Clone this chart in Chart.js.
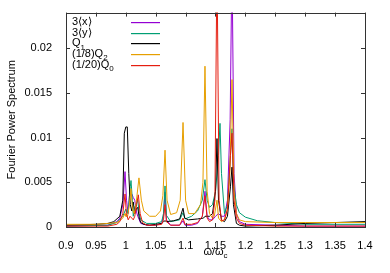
<!DOCTYPE html>
<html>
<head>
<meta charset="utf-8">
<script src="https://cdn.jsdelivr.net/npm/chart.js@4.4.1/dist/chart.umd.min.js"></script>
<style>
  html, body { margin: 0; padding: 0; background: #fff; }
  #wrap { width: 390px; height: 273px; }
</style>
</head>
<body>
<div id="wrap"><canvas id="spec" width="390" height="273"></canvas></div>
<script>
// tick values
const xTicks = [0.9, 0.95, 1, 1.05, 1.1, 1.15, 1.2, 1.25, 1.3, 1.35, 1.4];
const yTicks = [0, 0.005, 0.01, 0.015, 0.02];

// legend labels ("_" marks a subscript)
const labels = ["3⟨x⟩", "3⟨y⟩", "Q_1", "(1/8)Q_2", "(1/20)Q_0"];
const colors = ["#9400d3", "#009e73", "#000000", "#e69f00", "#e51e10"];

// [omega/omega_c, power]
const px3 = [[0.9,0.0001],[0.97,0.0002],[0.985,0.0006],[0.99,0.001],[0.995,0.0025],[0.9987,0.0062],[1.0012,0.003],[1.004,0.0015],[1.006,0.0035],[1.01,0.0037],[1.0125,0.0033],[1.015,0.003],[1.0175,0.0018],[1.02,0.0012],[1.025,0.0004],[1.035,0.0002],[1.05,0.0002],[1.06,0.0004],[1.063,0.0012],[1.0656,0.0039],[1.068,0.0008],[1.075,0.0002],[1.09,0.0002],[1.0957,0.0007],[1.099,0.0002],[1.11,0.0002],[1.12,0.0004],[1.128,0.0012],[1.1324,0.004],[1.136,0.0012],[1.14,0.0008],[1.145,0.0008],[1.15,0.0012],[1.155,0.0015],[1.16,0.0012],[1.165,0.0012],[1.17,0.003],[1.1745,0.012],[1.1776,0.03],[1.181,0.006],[1.185,0.0015],[1.19,0.0006],[1.2,0.0003],[1.25,0.0002],[1.3,0.0001],[1.4,0.0001]];

const py3 = [[0.9,0.0001],[0.97,0.0002],[0.985,0.0005],[0.995,0.0012],[1.0,0.002],[1.0025,0.0015],[1.005,0.0025],[1.0075,0.0045],[1.0087,0.0052],[1.011,0.003],[1.0125,0.0012],[1.015,0.0022],[1.0175,0.0026],[1.02,0.003],[1.0225,0.0015],[1.025,0.0008],[1.035,0.0004],[1.05,0.0004],[1.06,0.0006],[1.063,0.0015],[1.0656,0.0046],[1.068,0.0013],[1.075,0.0006],[1.09,0.0008],[1.0957,0.0016],[1.099,0.0009],[1.11,0.0012],[1.12,0.0018],[1.128,0.003],[1.1324,0.0053],[1.136,0.003],[1.14,0.0022],[1.145,0.0025],[1.15,0.004],[1.155,0.008],[1.1575,0.0116],[1.16,0.006],[1.165,0.0015],[1.17,0.0025],[1.175,0.008],[1.1776,0.011],[1.18,0.005],[1.185,0.0025],[1.19,0.0016],[1.2,0.0011],[1.22,0.0007],[1.25,0.0005],[1.3,0.0003],[1.35,0.0003],[1.4,0.0003]];

const q1 = [[0.9,0.0002],[0.95,0.0003],[0.97,0.0004],[0.98,0.0006],[0.99,0.0012],[0.995,0.003],[0.9975,0.0105],[1.0,0.0112],[1.0025,0.0112],[1.005,0.006],[1.0075,0.0025],[1.01,0.0018],[1.0125,0.0028],[1.015,0.0015],[1.0175,0.002],[1.02,0.0022],[1.0225,0.001],[1.025,0.0005],[1.03,0.0003],[1.04,0.0002],[1.05,0.0003],[1.06,0.0004],[1.063,0.0006],[1.0656,0.0007],[1.068,0.0006],[1.08,0.0007],[1.09,0.0009],[1.0957,0.0021],[1.0985,0.001],[1.105,0.0008],[1.12,0.0009],[1.13,0.001],[1.1325,0.0012],[1.14,0.0012],[1.145,0.0015],[1.15,0.004],[1.1525,0.0099],[1.155,0.003],[1.16,0.0008],[1.165,0.0006],[1.17,0.0012],[1.175,0.0045],[1.1776,0.0067],[1.18,0.0025],[1.185,0.0004],[1.19,0.0002],[1.2,0.0001],[1.25,0.0002],[1.3,0.0004],[1.35,0.0005],[1.4,0.0006]];

const q2 = [[0.9,0.0003],[0.95,0.0003],[0.97,0.0004],[0.985,0.0005],[0.99,0.0007],[0.995,0.001],[0.9987,0.0015],[1.0,0.0012],[1.003,0.0012],[1.006,0.0025],[1.0087,0.0043],[1.011,0.002],[1.014,0.0015],[1.017,0.0025],[1.022,0.0055],[1.026,0.003],[1.03,0.0018],[1.04,0.0012],[1.05,0.0012],[1.058,0.0018],[1.062,0.0035],[1.0656,0.0086],[1.069,0.003],[1.075,0.0014],[1.085,0.0016],[1.091,0.003],[1.0957,0.0117],[1.1,0.003],[1.105,0.0015],[1.115,0.0015],[1.125,0.0025],[1.129,0.005],[1.1324,0.018],[1.136,0.004],[1.14,0.0015],[1.145,0.001],[1.148,0.0012],[1.1525,0.003],[1.155,0.001],[1.16,0.0006],[1.165,0.0008],[1.17,0.002],[1.174,0.006],[1.1776,0.0165],[1.181,0.004],[1.185,0.0015],[1.19,0.0008],[1.2,0.0006],[1.25,0.0005],[1.3,0.0005],[1.35,0.0005],[1.4,0.0005]];

const q0 = [[0.9,0.0001],[0.97,0.0001],[0.985,0.0003],[0.99,0.0006],[0.995,0.0015],[0.9987,0.0037],[1.001,0.0015],[1.004,0.0008],[1.007,0.0012],[1.01,0.001],[1.0125,0.0008],[1.015,0.0012],[1.018,0.0025],[1.021,0.0036],[1.024,0.0015],[1.028,0.0005],[1.035,0.0002],[1.05,0.0002],[1.06,0.0003],[1.063,0.0008],[1.0656,0.0025],[1.068,0.0006],[1.075,0.0002],[1.09,0.0002],[1.0957,0.001],[1.099,0.0003],[1.11,0.0003],[1.12,0.0005],[1.128,0.0012],[1.1324,0.0035],[1.136,0.001],[1.14,0.0006],[1.145,0.0008],[1.149,0.003],[1.1525,0.03],[1.156,0.003],[1.16,0.0007],[1.165,0.0008],[1.17,0.002],[1.175,0.008],[1.1776,0.0105],[1.181,0.003],[1.185,0.001],[1.19,0.0004],[1.2,0.0002],[1.25,0.0001],[1.3,0.0001],[1.4,0.0001]];

const series = [px3, py3, q1, q2, q0];
const FONT = "'Liberation Sans', Arial, sans-serif";

// draw text where "_x" is a subscript
function richText(ctx, str, x, y, align) {
  const parts = str.split("_");
  const main = parts[0], sub = parts[1] || "";
  ctx.font = "11px " + FONT;
  const w1 = ctx.measureText(main).width;
  ctx.font = "8px " + FONT;
  const w2 = ctx.measureText(sub).width;
  let sx = x;
  if (align === "center") sx = x - (w1 + w2) / 2;
  ctx.textAlign = "left";
  ctx.textBaseline = "middle";
  ctx.font = "11px " + FONT;
  ctx.fillText(main, sx, y);
  if (sub) {
    ctx.font = "8px " + FONT;
    ctx.fillText(sub, sx + w1, y + 4);
  }
}

const frame = {
  id: "frame",
  afterDatasetsDraw(chart) {
    const ctx = chart.ctx;
    const a = chart.chartArea;
    const xs = chart.scales.x, ys = chart.scales.y;
    ctx.save();
    ctx.strokeStyle = "#333";
    ctx.lineWidth = 1;
    ctx.strokeRect(Math.round(a.left) + 0.5, Math.round(a.top) + 0.5,
      Math.round(a.right - a.left), Math.round(a.bottom - a.top));
    ctx.beginPath();
    xTicks.forEach(v => {
      const p = Math.round(xs.getPixelForValue(v)) + 0.5;
      ctx.moveTo(p, a.bottom); ctx.lineTo(p, a.bottom - 4);
      ctx.moveTo(p, a.top); ctx.lineTo(p, a.top + 4);
    });
    yTicks.forEach(v => {
      const p = Math.round(ys.getPixelForValue(v)) + 0.5;
      ctx.moveTo(a.left, p); ctx.lineTo(a.left + 4, p);
      ctx.moveTo(a.right, p); ctx.lineTo(a.right - 4, p);
    });
    ctx.stroke();

    // legend
    labels.forEach((lab, i) => {
      const y = a.top + 9.5 + i * 10.6;
      ctx.fillStyle = "#000";
      richText(ctx, lab, a.left + 6, y, "left");
      ctx.fillStyle = colors[i];
      ctx.fillRect(a.left + 65, Math.round(y), 29, 1.2);
    });

    // axis titles
    ctx.fillStyle = "#000";
    richText(ctx, "ω/ω_c", (a.left + a.right) / 2, 252, "center");
    ctx.translate(12, (a.top + a.bottom) / 2);
    ctx.rotate(-Math.PI / 2);
    ctx.font = "11px " + FONT;
    ctx.textAlign = "center";
    ctx.textBaseline = "middle";
    ctx.fillText("Fourier Power Spectrum", 0, 0);
    ctx.restore();
  }
};

new Chart(document.getElementById("spec"), {
  type: "line",
  data: {
    datasets: series.map((s, i) => ({
      label: labels[i],
      data: s.map(p => ({ x: p[0], y: p[1] })),
      borderColor: colors[i],
      borderWidth: 1,
      pointRadius: 0,
      fill: false,
      tension: 0,
      order: series.length - i
    }))
  },
  options: {
    responsive: false,
    animation: false,
    layout: { padding: { top: 10, right: 25, left: 0, bottom: 0 } },
    plugins: { legend: { display: false }, tooltip: { enabled: false } },
    scales: {
      x: {
        type: "linear", min: 0.9, max: 1.4,
        afterBuildTicks: s => { s.ticks = xTicks.map(v => ({ value: v })); },
        afterFit: s => { s.height = 46; },
        grid: { display: false },
        border: { display: false },
        ticks: { padding: 4, color: "#000", font: { family: FONT, size: 11 }, maxRotation: 0,
          callback: v => String(v) }
      },
      y: {
        min: 0, max: 0.024,
        afterBuildTicks: s => { s.ticks = yTicks.map(v => ({ value: v })); },
        afterFit: s => { s.width = 66; },
        grid: { display: false },
        border: { display: false },
        ticks: { padding: 6, color: "#000", font: { family: FONT, size: 11 },
          callback: v => String(v) }
      }
    }
  },
  plugins: [frame]
});
</script>
</body>
</html>
